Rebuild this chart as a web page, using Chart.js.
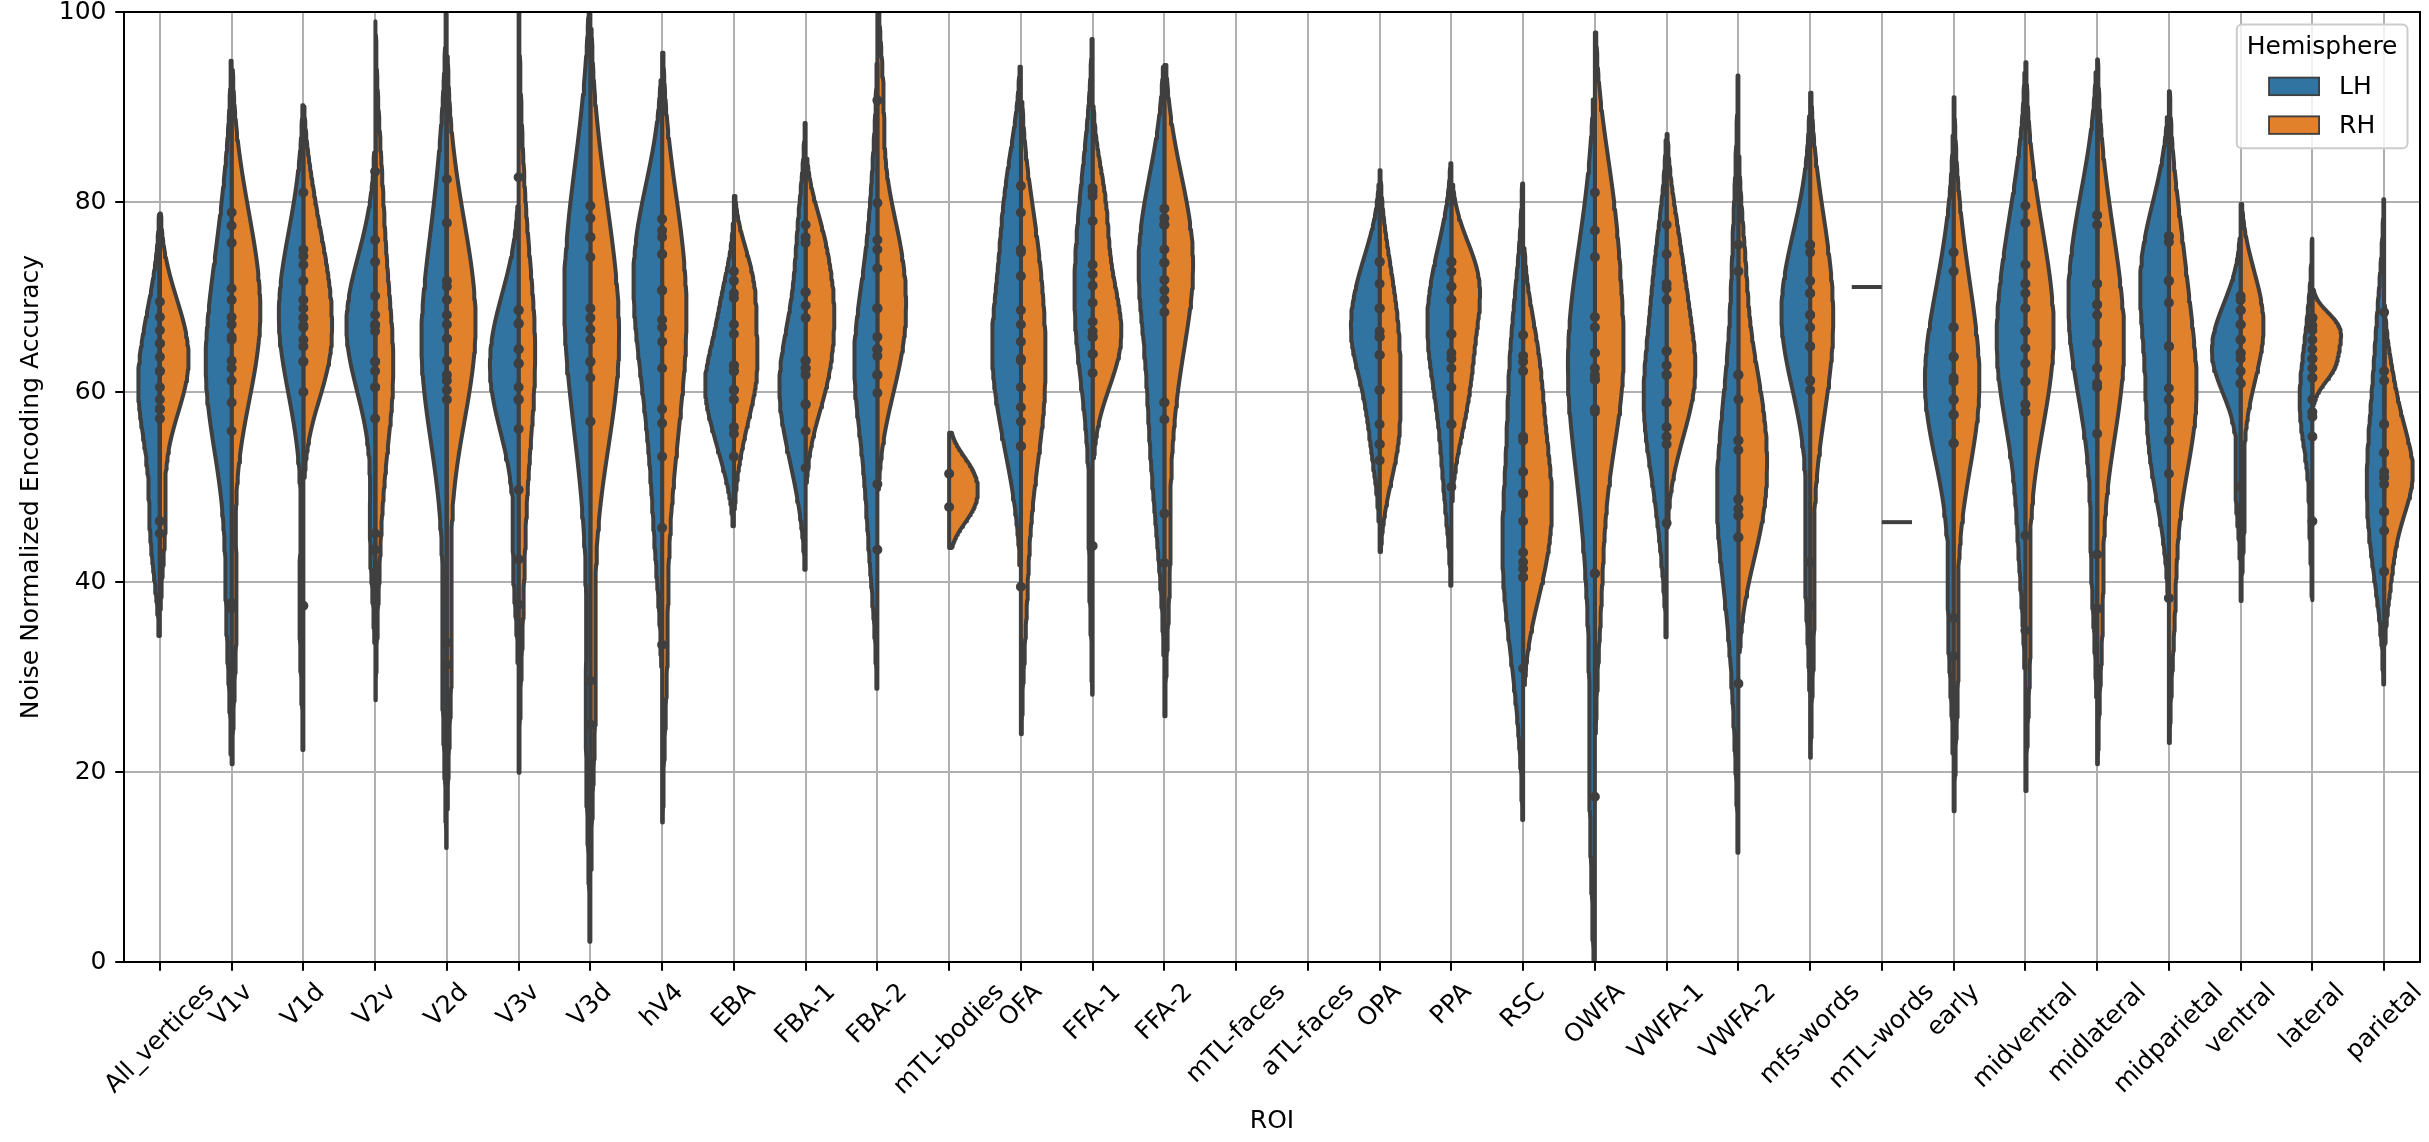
<!DOCTYPE html>
<html>
<head>
<meta charset="utf-8">
<style>
  html, body { margin: 0; padding: 0; background: #ffffff; }
  canvas { display: block; }
</style>
<script src="https://cdn.jsdelivr.net/npm/chart.js@4.4.1/dist/chart.umd.min.js"></script>
</head>
<body>
<canvas id="chart" width="2429" height="1142" style="width:2429px;height:1142px"></canvas>
<script>
// ---------------- data ----------------
const rois = ['All_vertices', 'V1v', 'V1d', 'V2v', 'V2d', 'V3v', 'V3d', 'hV4', 'EBA', 'FBA-1', 'FBA-2',
  'mTL-bodies', 'OFA', 'FFA-1', 'FFA-2', 'mTL-faces', 'aTL-faces', 'OPA', 'PPA', 'RSC', 'OWFA',
  'VWFA-1', 'VWFA-2', 'mfs-words', 'mTL-words', 'early', 'midventral', 'midlateral', 'midparietal',
  'ventral', 'lateral', 'parietal'];

const lhValues = [
  [67.9, 65.1, 62.2, 59.2, 58.2, 57.2, 46.4, 45.1],
  [78.9, 70.9, 67.1, 63.3, 61.2, 58.9, 55.9, 37.8],
  [75.0, 71.7, 68.8, 67.8, 66.8, 65.5, 63.2, 37.5],
  [73.7, 70.1, 68.1, 67.1, 66.4, 63.2, 60.5, 45.1],
  [82.4, 71.1, 68.1, 65.6, 63.3, 61.2, 59.2, 31.3],
  [68.6, 67.2, 64.5, 63.0, 60.5, 59.2, 56.1, 42.4],
  [79.6, 76.3, 74.2, 68.8, 66.6, 63.2, 56.9, 25.0],
  [78.2, 76.3, 74.5, 70.7, 66.8, 62.5, 56.7, 45.7],
  [70.4, 67.1, 62.8, 62.2, 60.2, 59.2, 56.3, 53.2],
  [77.6, 70.5, 63.3, 62.5, 61.8, 58.7, 55.9, 52.0],
  [79.9, 68.8, 64.5, 63.8, 61.8, 59.9, 50.3, 43.4],
  [],
  [81.7, 78.9, 72.2, 67.1, 65.3, 63.3, 58.4, 54.3],
  [81.5, 80.6, 73.4, 71.2, 67.4, 65.8, 64.0, 43.8],
  [79.3, 77.6, 73.6, 71.8, 69.7, 58.9, 57.1, 47.2],
  [],
  [],
  [73.7, 71.4, 68.8, 66.4, 65.8, 63.9, 60.2, 54.5],
  [73.7, 71.1, 69.7, 66.1, 64.1, 62.5, 56.6, 50.0],
  [66.0, 63.2, 55.3, 49.3, 43.1, 41.4, 40.5, 30.9],
  [67.9, 66.8, 64.1, 62.5, 61.3, 58.2, 40.9, 17.4],
  [74.5, 70.9, 64.3, 61.8, 58.9, 56.3, 54.5, 46.2],
  [75.5, 61.8, 54.9, 48.7, 47.7, 47.0, 44.7, 29.3],
  [75.5, 71.7, 70.4, 68.1, 66.8, 64.8, 61.2, 42.1],
  [71.05],
  [72.7, 66.8, 63.7, 61.5, 59.2, 57.6, 54.6, 36.2],
  [79.6, 73.4, 70.4, 66.4, 63.0, 61.1, 57.9, 44.9],
  [78.6, 77.6, 71.4, 69.2, 68.1, 62.5, 60.5, 42.9],
  [76.4, 75.8, 71.7, 69.4, 64.8, 59.2, 54.9, 51.4],
  [68.6, 67.1, 65.5, 64.1, 63.5, 62.2, 60.9, 50.0],
  [67.8, 63.5, 61.5, 59.2, 57.9, 57.4, 55.3, 46.4],
  [68.4, 62.2, 56.6, 53.6, 51.0, 47.4, 45.4, 41.1]
];

const rhValues = [
  [69.5, 66.5, 65.1, 63.7, 62.2, 60.5, 58.2, 46.4],
  [77.5, 75.7, 69.7, 67.9, 65.8, 65.5, 62.5, 37.2],
  [81.0, 74.3, 73.4, 69.7, 67.0, 64.8, 63.2, 60.0],
  [83.2, 76.0, 67.0, 63.2, 62.2, 60.5, 57.2, 43.4],
  [77.8, 71.7, 69.7, 67.1, 65.6, 61.8, 60.2, 33.6],
  [82.6, 68.6, 67.2, 64.5, 63.0, 59.2, 49.7, 37.6],
  [78.3, 76.3, 67.8, 65.5, 63.2, 61.5, 56.9, 29.6],
  [77.0, 74.5, 70.7, 67.6, 65.3, 58.2, 53.2, 33.4],
  [72.7, 71.7, 69.9, 66.1, 62.8, 62.2, 60.2, 55.6],
  [76.3, 75.7, 70.5, 69.1, 67.8, 63.3, 62.5, 58.7],
  [90.7, 76.0, 75.0, 73.0, 68.8, 65.8, 64.5, 61.8],
  [51.4, 47.9],
  [75.0, 74.7, 68.6, 63.5, 60.5, 56.9, 54.3, 39.5],
  [81.1, 78.0, 72.4, 69.4, 66.4, 65.8, 64.0, 62.0],
  [78.3, 77.6, 75.0, 73.6, 70.7, 68.4, 58.9, 42.0],
  [],
  [],
  [73.7, 68.8, 65.8, 63.9, 60.2, 56.6, 54.5, 52.8],
  [73.7, 72.7, 71.1, 69.7, 66.1, 63.5, 60.5, 56.6],
  [63.8, 62.2, 54.9, 51.6, 49.3, 46.4, 42.1, 40.5],
  [81.0, 77.0, 74.2, 64.1, 61.8, 61.3, 57.9, 40.9],
  [77.6, 71.4, 69.7, 64.3, 62.8, 61.8, 58.9, 55.3],
  [72.7, 61.8, 59.2, 54.9, 53.9, 48.7, 47.0, 44.7],
  [75.5, 74.7, 70.4, 68.1, 64.8, 61.2, 60.2, 37.5],
  [46.3],
  [74.7, 66.8, 63.7, 61.1, 59.2, 57.6, 54.6, 32.2],
  [77.8, 71.4, 68.8, 66.4, 64.6, 61.1, 58.7, 34.9],
  [78.6, 71.4, 69.2, 65.1, 62.5, 60.9, 55.6, 37.2],
  [76.4, 71.7, 64.8, 60.4, 59.2, 56.9, 54.9, 38.3],
  [70.1, 69.7, 68.6, 67.1, 65.5, 64.1, 60.9, 47.7],
  [67.8, 67.0, 66.5, 65.5, 64.5, 63.5, 62.5, 61.5],
  [61.2, 56.6, 53.6, 51.6, 51.0, 50.3, 47.4, 41.1]
];

const yTicks = [0, 20, 40, 60, 80, 100];
const hemispheres = ['LH', 'RH'];
const hemiColors = ['#3274a1', '#e1812c'];

// ---------------- styling ----------------
const FONT = "'DejaVu Sans', 'Liberation Sans', sans-serif";
const FS = 25;               // 10 pt at ~180 dpi
const PT = 2.5;              // px per point
const GRAY = '#3f3f3f';
const GRID_COLOR = '#b0b0b0';
const LW = 1.6 * PT;
const HALF_WIDTH = 0.4;      // split violin: each half up to 0.4 category
const GRIDSIZE = 100, CUT = 2;

// Gaussian KDE, Scott's rule (as seaborn / scipy)
function kde(vals) {
  const n = vals.length;
  const mean = vals.reduce((a, b) => a + b, 0) / n;
  const sd = Math.sqrt(vals.reduce((a, b) => a + (b - mean) * (b - mean), 0) / (n - 1));
  const bw = sd * Math.pow(n, -0.2);
  const lo = Math.min(...vals) - CUT * bw, hi = Math.max(...vals) + CUT * bw;
  const ys = [], ds = [];
  let max = 0;
  for (let k = 0; k < GRIDSIZE; k++) {
    const y = lo + (hi - lo) * k / (GRIDSIZE - 1);
    let d = 0;
    for (const v of vals) { const z = (y - v) / bw; d += Math.exp(-0.5 * z * z); }
    d /= n * bw * Math.sqrt(2 * Math.PI);
    ys.push(y); ds.push(d); if (d > max) max = d;
  }
  return { ys, ds, max };
}

const datasets = [];
const pointData = [];
rois.forEach((roi, i) => {
  const groups = [lhValues[i], rhValues[i]];
  const kdes = groups.map(v => (v.length > 1 ? kde(v) : null));
  const maxD = Math.max(0, ...kdes.filter(Boolean).map(k => k.max));
  groups.forEach((vals, h) => {
    const side = h === 0 ? -1 : 1;
    if (vals.length === 1) {
      datasets.push({
        type: 'line', label: roi + ' ' + hemispheres[h],
        data: [{ x: i, y: vals[0] }, { x: i + side * (HALF_WIDTH + 0.02), y: vals[0] }],
        borderColor: GRAY, borderWidth: LW, pointRadius: 0, fill: false, order: 1, clip: 0
      });
      return;
    }
    const k = kdes[h];
    if (!k) return;
    const pts = [{ x: i, y: k.ys[0] }];
    k.ys.forEach((y, j) => pts.push({ x: i + side * HALF_WIDTH * k.ds[j] / maxD, y }));
    pts.push({ x: i, y: k.ys[GRIDSIZE - 1] });
    pts.push({ x: i, y: k.ys[0] });
    datasets.push({
      type: 'line', label: roi + ' ' + hemispheres[h], data: pts,
      violinFill: hemiColors[h], fill: false,
      borderColor: GRAY, borderWidth: LW, borderJoinStyle: 'round',
      pointRadius: 0, pointHitRadius: 0, tension: 0, order: 1, clip: 0
    });
    vals.forEach(v => pointData.push({ x: i, y: v }));
  });
});
datasets.unshift({
  type: 'scatter', label: 'observations', data: pointData,
  pointRadius: 3.8, pointBackgroundColor: GRAY, pointBorderColor: GRAY, pointBorderWidth: 2.4,
  order: 0, clip: 0
});

// fill each violin half from the points Chart.js placed through its scales
const violinFill = {
  id: 'violinFill',
  beforeDatasetDraw(chart, args) {
    const ds = chart.data.datasets[args.index];
    if (!ds.violinFill) return;
    const pts = args.meta.data;
    const { ctx, chartArea: a } = chart;
    ctx.save();
    ctx.beginPath();
    ctx.rect(a.left, a.top, a.right - a.left, a.bottom - a.top);
    ctx.clip();
    ctx.beginPath();
    pts.forEach((p, k) => (k ? ctx.lineTo(p.x, p.y) : ctx.moveTo(p.x, p.y)));
    ctx.closePath();
    ctx.fillStyle = ds.violinFill;
    ctx.fill();
    ctx.restore();
  }
};

// spines, rotated category labels (matplotlib style) and legend
const decor = {
  id: 'decor',
  afterDraw(chart) {
    const { ctx, chartArea: a, scales: { x } } = chart;
    ctx.save();
    ctx.strokeStyle = '#000'; ctx.lineWidth = 0.8 * PT;
    ctx.strokeRect(a.left, a.top, a.right - a.left, a.bottom - a.top);

    ctx.font = FS + 'px ' + FONT;
    ctx.fillStyle = '#000';
    ctx.textAlign = 'left'; ctx.textBaseline = 'alphabetic';
    const h = 0.98 * FS, desc = 0.22 * FS, c = Math.SQRT1_2;
    const yTop = a.bottom + 3.5 * PT + 3.5 * PT;
    rois.forEach((roi, i) => {
      const w = ctx.measureText(roi).width;
      const px = x.getPixelForValue(i);
      const x0 = px - c * (w - h) / 2, y0 = yTop + c * (w + h);
      ctx.save(); ctx.translate(x0, y0); ctx.rotate(-Math.PI / 4);
      ctx.fillText(roi, 0, -desc);
      ctx.restore();
    });

    // legend
    const pad = 0.4 * FS, sep = 0.5 * FS, lineH = 1.05 * FS;
    const handleW = 2 * FS, handleH = 0.7 * FS, textPad = 0.8 * FS;
    const title = 'Hemisphere';
    const titleW = ctx.measureText(title).width;
    const rowW = handleW + textPad + Math.max(...hemispheres.map(t => ctx.measureText(t).width));
    const innerW = Math.max(titleW, rowW);
    const boxW = innerW + 2 * pad, boxH = 2 * pad + 3 * lineH + 2 * sep;
    const boxR = a.right - 0.5 * FS, boxT = a.top + 0.5 * FS, boxL = boxR - boxW;
    ctx.beginPath();
    if (ctx.roundRect) ctx.roundRect(boxL, boxT, boxW, boxH, 5); else ctx.rect(boxL, boxT, boxW, boxH);
    ctx.fillStyle = 'rgba(255,255,255,0.8)'; ctx.fill();
    ctx.strokeStyle = '#cccccc'; ctx.lineWidth = 0.8 * PT; ctx.stroke();
    ctx.fillStyle = '#000'; ctx.textBaseline = 'middle'; ctx.textAlign = 'center';
    ctx.fillText(title, boxL + boxW / 2, boxT + pad + lineH / 2);
    const rowL = boxL + pad + (innerW - rowW) / 2;
    hemispheres.forEach((hName, k) => {
      const cy = boxT + pad + lineH + sep + k * (lineH + sep) + lineH / 2;
      ctx.fillStyle = hemiColors[k];
      ctx.fillRect(rowL, cy - handleH / 2, handleW, handleH);
      ctx.strokeStyle = GRAY; ctx.lineWidth = 0.75 * PT;
      ctx.strokeRect(rowL, cy - handleH / 2, handleW, handleH);
      ctx.fillStyle = '#000'; ctx.textAlign = 'left';
      ctx.fillText(hName, rowL + handleW + textPad, cy + 1);
    });
    ctx.restore();
  }
};

Chart.defaults.font.family = FONT;
Chart.defaults.color = '#000';

new Chart(document.getElementById('chart'), {
  type: 'scatter',
  data: { datasets },
  options: {
    responsive: false,
    devicePixelRatio: 1,
    animation: false,
    events: [],
    layout: { padding: { left: 0, right: 9, top: 12, bottom: 0 } },
    plugins: { legend: { display: false }, tooltip: { enabled: false } },
    scales: {
      x: {
        type: 'linear', min: -0.5, max: rois.length - 0.5, z: 1,
        afterBuildTicks: s => { s.ticks = rois.map((_, i) => ({ value: i })); },
        afterFit: s => { s.height = 180; s.paddingLeft = 0; s.paddingRight = 0; },
        ticks: { display: false },
        grid: { color: GRID_COLOR, lineWidth: 0.8 * PT, drawTicks: true, tickLength: 3.5 * PT,
                tickColor: '#000', tickWidth: 0.8 * PT },
        border: { display: true, color: '#000', width: 0.8 * PT },
        title: { display: true, text: 'ROI', color: '#000', font: { family: FONT, size: FS },
                 padding: { top: 0, bottom: 6 } }
      },
      y: {
        type: 'linear', min: 0, max: 100, z: 1,
        afterBuildTicks: s => { s.ticks = yTicks.map(v => ({ value: v })); },
        afterFit: s => { s.width = 124; s.paddingTop = 0; s.paddingBottom = 0; },
        ticks: { color: '#000', font: { family: FONT, size: FS }, padding: 3.5 * PT },
        grid: { color: GRID_COLOR, lineWidth: 0.8 * PT, drawTicks: true, tickLength: 3.5 * PT,
                tickColor: '#000', tickWidth: 0.8 * PT },
        border: { display: true, color: '#000', width: 0.8 * PT },
        title: { display: true, text: 'Noise Normalized Encoding Accuracy', color: '#000',
                 font: { family: FONT, size: FS }, padding: { top: 16, bottom: 0 } }
      }
    }
  },
  plugins: [violinFill, decor]
});
</script>
</body>
</html>
